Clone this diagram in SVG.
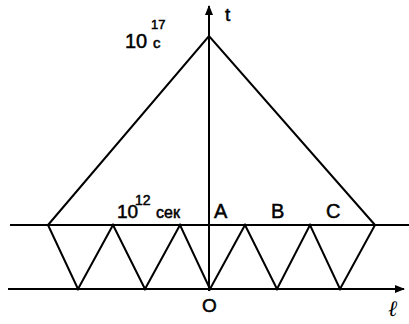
<svg xmlns="http://www.w3.org/2000/svg" width="409" height="324" viewBox="0 0 409 324">
<style>
.ln{stroke:#000;stroke-width:2;fill:none;stroke-linejoin:miter}
.tx{font-family:"Liberation Sans",Arial,sans-serif;fill:#000;stroke:#000;stroke-width:0.5}
</style>
<defs>
<marker id="ah" viewBox="0 0 10 10" refX="9" refY="5" markerWidth="10" markerHeight="10" markerUnits="userSpaceOnUse" orient="auto">
<path d="M0,1 L10,5 L0,9 z" fill="#000"/>
</marker>
</defs>
<rect width="409" height="324" fill="#fff"/>
<g id="connectors">
<line class="ln" x1="10" y1="225" x2="409" y2="225"/>
<line class="ln" x1="8" y1="289" x2="404" y2="289" marker-end="url(#ah)"/>
<line class="ln" x1="209" y1="291" x2="209" y2="6" marker-end="url(#ah)"/>
<polyline class="ln" points="48,225 209,36 375,225"/>
<polyline class="ln" points="48,225 78,289 113,225 145,289 180,225 210,289 245,225 277,289 310,225 340,289 375,225"/>
</g>
<g id="labels">
<text class="tx" x="225" y="21" font-size="19">t</text>
<text class="tx" x="125" y="48" font-size="20">10</text>
<text class="tx" x="151" y="29" font-size="13">17</text>
<text class="tx" x="153" y="48" font-size="15">c</text>
<text class="tx" x="117" y="218" font-size="19">10</text>
<text class="tx" x="135" y="205" font-size="14">12</text>
<text class="tx" x="156" y="218" font-size="16">сек</text>
<text class="tx" x="214" y="218" font-size="20">A</text>
<text class="tx" x="271" y="218" font-size="20">B</text>
<text class="tx" x="326" y="218" font-size="20">C</text>
<text class="tx" x="202" y="312" font-size="19">O</text>
<text x="388" y="316" font-size="22" font-style="italic" font-family="'Liberation Serif','DejaVu Serif',serif">ℓ</text>
</g>
</svg>
